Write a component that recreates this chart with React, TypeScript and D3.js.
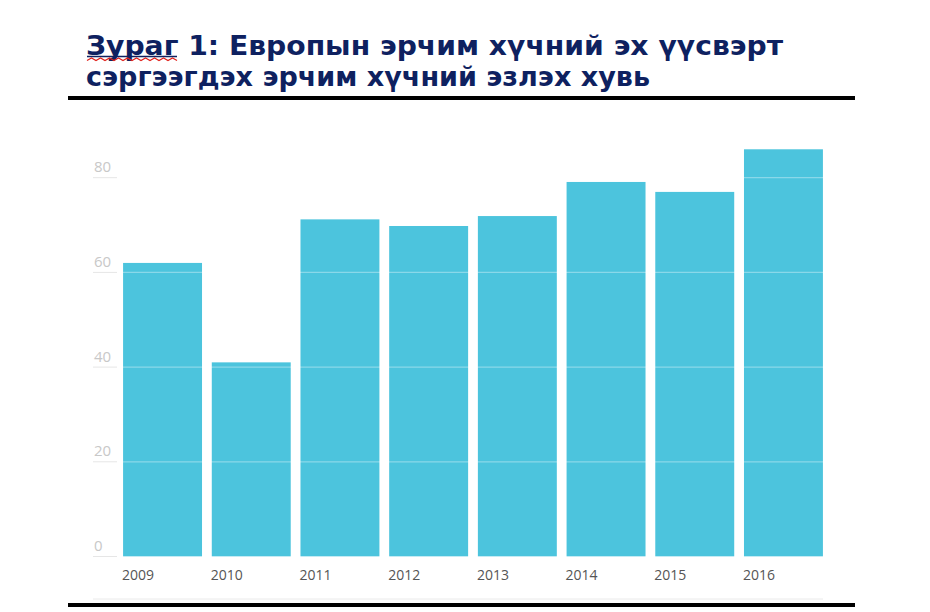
import React, { useEffect } from "react";
import * as d3 from "d3";

const years = ["2009", "2010", "2011", "2012", "2013", "2014", "2015", "2016"];
const shares = [62, 41, 71.2, 69.8, 71.9, 79.1, 77.0, 86.0];
const yTicks = [0, 20, 40, 60, 80];
const titleLine1 = "Зураг 1: Европын эрчим хүчний эх үүсвэрт";
const titleLine2 = "сэргээгдэх эрчим хүчний эзлэх хувь";

const W = 930;
const H = 612;

export default function App() {
  useEffect(() => {
    document.body.style.margin = "0";
  }, []);

  const x = d3
    .scaleBand<string>()
    .domain(years)
    .range([118.2, 827.8])
    .paddingInner(0.11)
    .paddingOuter(0.055);
  const y = d3.scaleLinear().domain([0, 80]).range([556.5, 177.7]);

  const waveData = d3.range(0, 21).map((i) => [87 + i * 4.5, i % 2 === 0 ? 60.5 : 58] as [number, number]);
  const wave = d3.line()(waveData) || "";

  return (
    <svg width={W} height={H} style={{ display: "block", background: "#fff" }}>
      <g fontFamily="'DejaVu Sans', Verdana, sans-serif" fontWeight="bold" fill="#0e2160" fontSize={26}>
        <text x={86} y={55} textLength={697} lengthAdjust="spacingAndGlyphs">{titleLine1}</text>
        <text x={86} y={86} textLength={564} lengthAdjust="spacingAndGlyphs">{titleLine2}</text>
      </g>
      <line x1={87} x2={177} y1={56.5} y2={56.5} stroke="#0e2160" strokeWidth={1.5} />
      <path d={wave} fill="none" stroke="#e0201b" strokeWidth={1.2} />
      <rect x={68} y={96} width={787} height={4} fill="#000" />

      {years.map((yr, i) => (
        <rect
          key={yr}
          x={x(yr)}
          y={y(shares[i])}
          width={x.bandwidth()}
          height={y(0) - y(shares[i])}
          fill="#4cc4dd"
        />
      ))}

      {yTicks.map((t) => (
        <g key={t}>
          <line x1={93} x2={823} y1={y(t)} y2={y(t)} stroke="#ffffff" strokeOpacity={0.35} strokeWidth={1.2} />
          <line x1={93} x2={117} y1={y(t)} y2={y(t)} stroke="#e6e6e6" strokeWidth={1} />
          <text
            x={94}
            y={y(t) - 5.5}
            fontSize={15}
            fill="#c8c8c8"
            fontFamily="'Open Sans', sans-serif"
          >
            {t}
          </text>
        </g>
      ))}

      {years.map((yr) => (
        <text
          key={yr}
          x={x(yr)! - 1}
          y={579.5}
          fontSize={14}
          fill="#555"
          fontFamily="'Open Sans', sans-serif"
        >
          {yr}
        </text>
      ))}

      <line x1={93} x2={823} y1={599} y2={599} stroke="#eaeaea" strokeWidth={1} />
      <rect x={68} y={603} width={787} height={4} fill="#000" />
    </svg>
  );
}
